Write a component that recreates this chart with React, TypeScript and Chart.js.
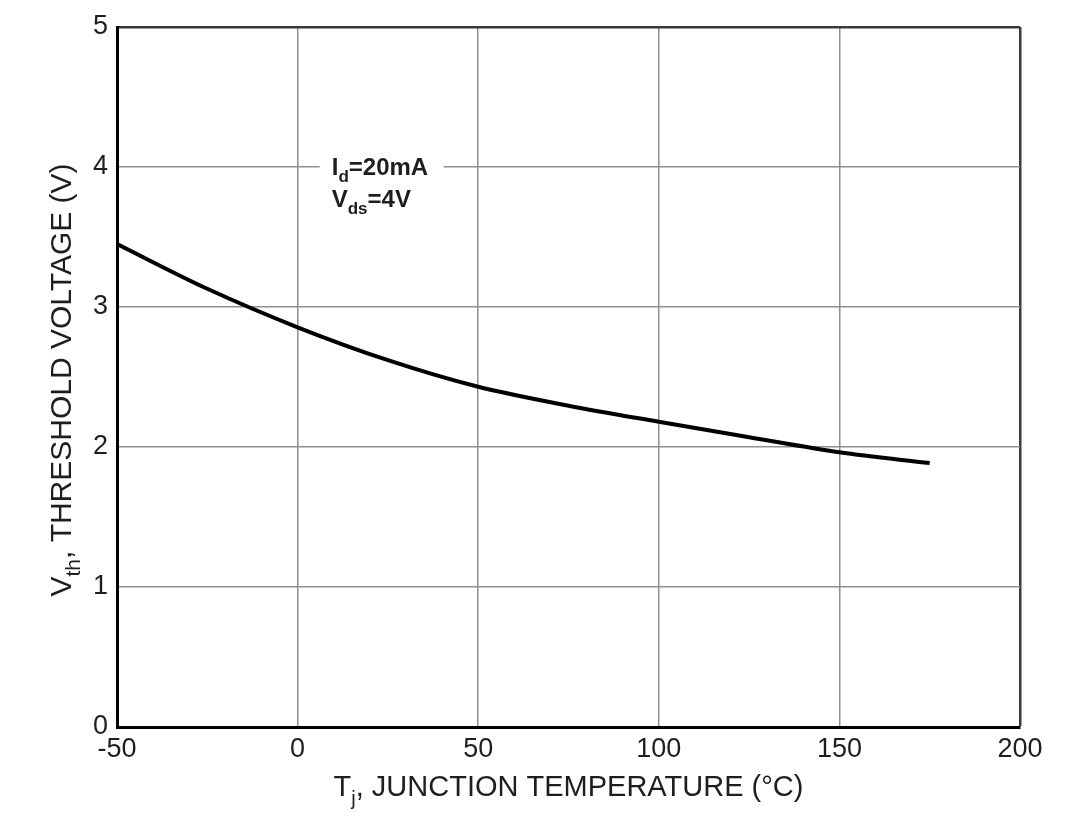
import React, { useEffect, useRef } from "react";
import { Chart, registerables } from "chart.js";

Chart.register(...registerables);

const temperatures = [-50, -25, 0, 25, 50, 75, 100, 125, 150, 175];
const thresholdVoltage = [3.45, 3.13, 2.855, 2.62, 2.43, 2.295, 2.18, 2.07, 1.962, 1.885];
const xTicks = [-50, 0, 50, 100, 150, 200];
const yTicks = [0, 1, 2, 3, 4, 5];

const FONT = "'Liberation Sans', Arial, sans-serif";
const TEXT = "#1e1e1e";

type Part = { t: string; sub?: boolean };

function drawParts(ctx: CanvasRenderingContext2D, parts: Part[], size: number, weight: string, cx: number, cy: number, align: "center" | "left") {
  const subSize = Math.round(size * 0.7);
  const widths = parts.map((p) => {
    ctx.font = `${weight} ${p.sub ? subSize : size}px ${FONT}`;
    return ctx.measureText(p.t).width;
  });
  const total = widths.reduce((a, b) => a + b, 0);
  let x = align === "center" ? cx - total / 2 : cx;
  ctx.textBaseline = "alphabetic";
  ctx.textAlign = "left";
  parts.forEach((p, i) => {
    ctx.font = `${weight} ${p.sub ? subSize : size}px ${FONT}`;
    ctx.fillText(p.t, x, cy + (p.sub ? size * 0.3 : 0));
    x += widths[i];
  });
}

const decorPlugin = {
  id: "decor",
  afterDatasetsDraw(chart: any) {
    const ctx: CanvasRenderingContext2D = chart.ctx;
    const xs = chart.scales.x;
    const ys = chart.scales.y;
    ctx.save();
    const ax = xs.getPixelForValue(10);
    const ay = ys.getPixelForValue(4);
    ctx.fillStyle = "#ffffff";
    ctx.fillRect(ax - 14, ay - 14, 124, 28);
    ctx.fillStyle = TEXT;
    drawParts(ctx, [{ t: "I" }, { t: "d", sub: true }, { t: "=20mA" }], 24, "bold", ax - 2, ay + 8, "left");
    drawParts(ctx, [{ t: "V" }, { t: "ds", sub: true }, { t: "=4V" }], 24, "bold", ax - 2, ay + 40, "left");
    ctx.restore();
  },
  afterDraw(chart: any) {
    const ctx: CanvasRenderingContext2D = chart.ctx;
    const a = chart.chartArea;
    ctx.save();
    ctx.fillStyle = TEXT;
    drawParts(ctx, [{ t: "T" }, { t: "j", sub: true }, { t: ", JUNCTION TEMPERATURE (°C)" }], 29, "normal", (a.left + a.right) / 2, 796, "center");
    ctx.translate(71, (a.top + a.bottom) / 2 + 3);
    ctx.rotate(-Math.PI / 2);
    drawParts(ctx, [{ t: "V" }, { t: "th", sub: true }, { t: ", THRESHOLD VOLTAGE (V)" }], 30, "normal", 0, 0, "center");
    ctx.restore();
  },
};

export default function App() {
  const ref = useRef<HTMLCanvasElement | null>(null);
  useEffect(() => {
    if (!ref.current) return;
    const chart = new Chart(ref.current, {
      type: "line",
      data: {
        datasets: [
          {
            data: temperatures.map((t, i) => ({ x: t, y: thresholdVoltage[i] })),
            borderColor: "#000000",
            borderWidth: 4,
            pointRadius: 0,
            cubicInterpolationMode: "monotone",
            fill: false,
          },
        ],
      },
      options: {
        animation: false,
        responsive: false,
        maintainAspectRatio: false,
        layout: { autoPadding: false, padding: { left: 0, top: 27, right: 48, bottom: 0 } },
        plugins: { legend: { display: false }, tooltip: { enabled: false } },
        scales: {
          x: {
            type: "linear",
            min: -50,
            max: 200,
            afterBuildTicks: (s: any) => {
              s.ticks = xTicks.map((v) => ({ value: v }));
            },
            afterFit: (s: any) => {
              s.height = 96;
            },
            grid: {
              drawTicks: false,
              color: (c: any) => (c.tick && c.tick.value === 200 ? "#3a3a3a" : "#8f8f8f"),
              lineWidth: (c: any) => (c.tick && c.tick.value === 200 ? 2.5 : 1.5),
            },
            border: { color: "#000000", width: 3 },
            ticks: { color: TEXT, padding: 6, font: { family: FONT, size: 27 }, maxRotation: 0 },
          },
          y: {
            type: "linear",
            min: 0,
            max: 5,
            afterBuildTicks: (s: any) => {
              s.ticks = yTicks.map((v) => ({ value: v }));
            },
            afterFit: (s: any) => {
              s.width = 117;
            },
            grid: {
              drawTicks: false,
              color: (c: any) => (c.tick && c.tick.value === 5 ? "#3a3a3a" : "#8f8f8f"),
              lineWidth: (c: any) => (c.tick && c.tick.value === 5 ? 2.5 : 1.5),
            },
            border: { color: "#000000", width: 3 },
            ticks: { color: TEXT, padding: 9, font: { family: FONT, size: 27 } },
          },
        },
      },
      plugins: [decorPlugin],
    });
    return () => chart.destroy();
  }, []);
  return (
    <div style={{ position: "fixed", left: 0, top: 0, width: 1068, height: 823, background: "#fff" }}>
      <canvas ref={ref} width={1068} height={823} style={{ width: 1068, height: 823, display: "block" }} />
    </div>
  );
}
